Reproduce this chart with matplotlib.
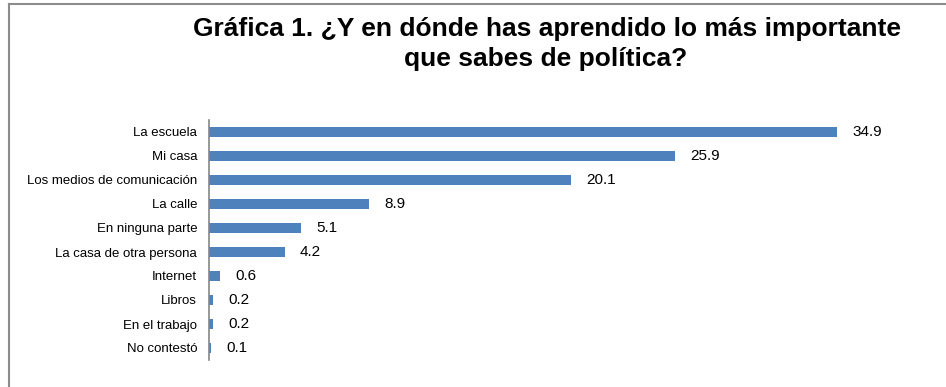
import matplotlib.pyplot as plt
from matplotlib.lines import Line2D

plt.rcParams['font.family'] = ['Liberation Sans', 'DejaVu Sans']

# respuestas, de mayor a menor
categorias = ['La escuela', 'Mi casa', 'Los medios de comunicación', 'La calle',
              'En ninguna parte', 'La casa de otra persona', 'Internet',
              'Libros', 'En el trabajo', 'No contestó']
porcentajes = [34.9, 25.9, 20.1, 8.9, 5.1, 4.2, 0.6, 0.2, 0.2, 0.1]

W, H = 946, 387
fig = plt.figure(figsize=(W / 100, H / 100), dpi=100)

# area de barras en pixeles
left, right, top, bottom = 209, 929, 120, 360
ax = fig.add_axes([left / W, 1 - bottom / H, (right - left) / W, (bottom - top) / H])

y = list(range(len(categorias)))
ax.barh(y, porcentajes, height=0.38, color='#4F81BD')
for yi, v in zip(y, porcentajes):
    ax.text(v + 0.85, yi, '%.1f' % v, va='center', ha='left', fontsize=11, color='black')

ax.set_xlim(0, 40)
ax.set_ylim(len(categorias) - 0.5, -0.5)
ax.set_yticks(y)
ax.set_yticklabels(categorias, fontsize=9.5)
ax.tick_params(axis='y', length=0, pad=8.5)
ax.set_xticks([])
for s in ['top', 'right', 'bottom']:
    ax.spines[s].set_visible(False)
ax.spines['left'].set_color('#868686')
ax.spines['left'].set_linewidth(1.2)

fig.text(547 / W, 1 - 36 / H, 'Gráfica 1. ¿Y en dónde has aprendido lo más importante',
         ha='center', va='baseline', fontsize=19, fontweight='bold')
fig.text(546 / W, 1 - 66 / H, 'que sabes de política?',
         ha='center', va='baseline', fontsize=19, fontweight='bold')

# marco del grafico (solo arriba e izquierda)
fig.add_artist(Line2D([8.5 / W, 8.5 / W], [0, 1 - 4 / H], color='#8c8c8c', lw=1.5,
                      transform=fig.transFigure))
fig.add_artist(Line2D([8.5 / W, 1], [1 - 4 / H, 1 - 4 / H], color='#8c8c8c', lw=1.5,
                      transform=fig.transFigure))

fig.savefig('out.png', dpi=100)
